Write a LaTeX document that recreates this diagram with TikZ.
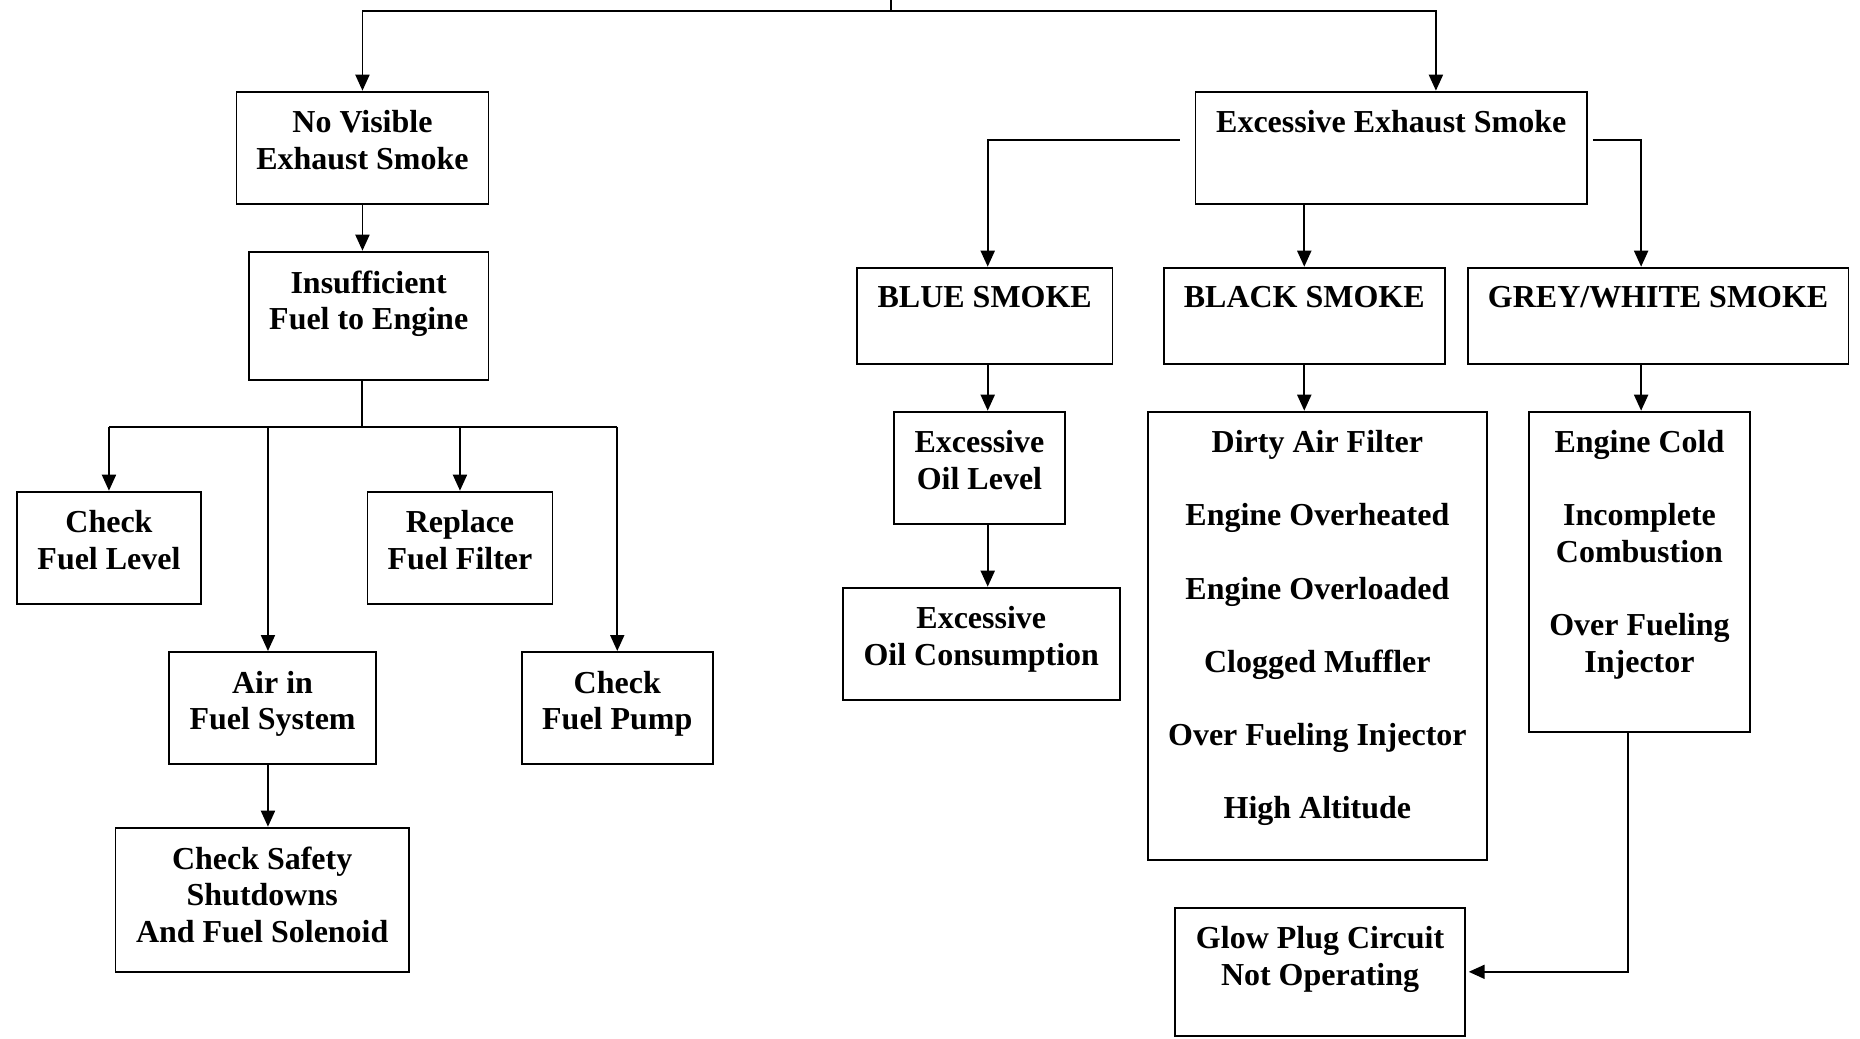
\documentclass[tikz,border=0pt]{standalone}
\usepackage{fontspec}
\setmainfont{Liberation Serif}
\usepackage{tikz}
\usetikzlibrary{arrows.meta,positioning}

\begin{document}
\begin{tikzpicture}[x=0.1mm, y=-0.1mm,
  box/.style 2 args={draw, line width=0.55pt, inner sep=0pt, anchor=north west,
    font=\fontsize{9.1pt}{10.4pt}\selectfont\bfseries,
    execute at begin node={\begin{minipage}[c][#2][t]{#1}\centering\vspace*{1.9mm}},
    execute at end node={\end{minipage}}},
  wire/.style={line width=0.55pt},
  arr/.style={line width=0.55pt, -{Triangle[length=1.6mm,width=1.4mm]}}]
\useasboundingbox (0,0) rectangle (1860,1038);
\def \rowone {90.7}
\def \rowtwo {266.7}
\def \rowthree {410.7}

%No smoke side
\node[box={25.2mm}{11.2mm}] (novis) at (235.5,\rowone) {No Visible\\Exhaust Smoke};
\node[box={23.95mm}{12.83mm}] (insuf) at (248,250.7) {Insufficient\\Fuel to Engine};
\node[box={18.4mm}{11.2mm}] (fuellvl) at (16,490.7) {Check\\Fuel Level};
\node[box={18.5mm}{11.2mm}] (filter) at (366.5,490.7) {Replace\\Fuel Filter};
\node[box={20.64mm}{11.2mm}] (air) at (168.4,651) {Air in\\Fuel System};
\node[box={19.1mm}{11.2mm}] (pump) at (520.8,651) {Check\\Fuel Pump};
\node[box={29.35mm}{14.43mm}] (safety) at (114.5,826.7) {Check Safety\\Shutdowns\\And Fuel Solenoid};

%Smoke side
\node[box={39.15mm}{11.2mm}] (excess) at (1194.5,\rowone) {Excessive Exhaust Smoke};
\node[box={25.55mm}{9.6mm}] (blue) at (856,\rowtwo) {BLUE SMOKE};
\node[box={28.06mm}{9.6mm}] (black) at (1163,\rowtwo) {BLACK SMOKE};
\node[box={38.07mm}{9.6mm}] (grey) at (1466.8,\rowtwo) {GREY/WHITE SMOKE};
\node[box={17.1mm}{11.2mm}] (oillvl) at (893,\rowthree) {Excessive\\Oil Level};
\node[box={27.66mm}{11.23mm}] (oilcons) at (842,586.7) {Excessive\\Oil Consumption};
\node[box={33.88mm}{44.83mm}] (blacklist) at (1147,\rowthree) {Dirty Air Filter\\[10.4pt]
  Engine Overheated\\[10.4pt] Engine Overloaded\\[10.4pt] Clogged Muffler\\[10.4pt]
  Over Fueling Injector\\[10.4pt] High Altitude};
\node[box={22.1mm}{32.03mm}] (greylist) at (1528,\rowthree) {Engine Cold\\[10.4pt]
  Incomplete\\Combustion\\[10.4pt] Over Fueling\\Injector};
\node[box={28.94mm}{12.83mm}] (glow) at (1174.4,906.7) {Glow Plug Circuit\\Not Operating};

%Top split
\coordinate (root) at (891,0);
\coordinate (topbar) at (891,11);
\draw[wire] (root) -- (topbar);
\draw[arr] (topbar) -| (novis.north);
\draw[arr] (topbar) -| ([xshift=4.47mm]excess.north);

%Left branch
\coordinate (fork) at (362,426.7);
\draw[arr] (novis.south) -- (novis.south |- insuf.north);
\draw[wire] (fork |- insuf.south) -- (fork);
\draw[wire] (fork -| fuellvl.north) -- (fork -| pump.north);
\foreach \n in {fuellvl,filter,pump}
  \draw[arr] (fork -| \n.north) -- (\n.north);
\draw[arr] ([xshift=-0.46mm]fork -| air.north) -- ([xshift=-0.46mm]air.north);
\draw[arr] ([xshift=-0.46mm]air.south) -- ([xshift=-0.46mm]air.south |- safety.north);

%Right branch
\draw[arr] ([xshift=-1.5mm,yshift=0.8mm]excess.west) -| ([xshift=0.3mm]blue.north);
\draw[arr] (black.north |- excess.south) -- (black.north);
\draw[arr] ([xshift=0.5mm,yshift=0.8mm]excess.east) -| ([xshift=-1.7mm]grey.north);
\draw[arr] ([xshift=0.3mm]blue.south) -- ([xshift=0.3mm]blue.south |- oillvl.north);
\draw[arr] ([xshift=0.3mm]blue.south |- oillvl.south) -- ([xshift=0.3mm]blue.south |- oilcons.north);
\draw[arr] (black.south) -- (black.south |- blacklist.north);
\draw[arr] ([xshift=-1.7mm]grey.south) -- ([xshift=-1.7mm]grey.south |- greylist.north);

%Glow plug
\draw[arr] ([xshift=-1.15mm]greylist.south) |- ([xshift=0.3mm]glow.east);

\end{tikzpicture}
\end{document}
